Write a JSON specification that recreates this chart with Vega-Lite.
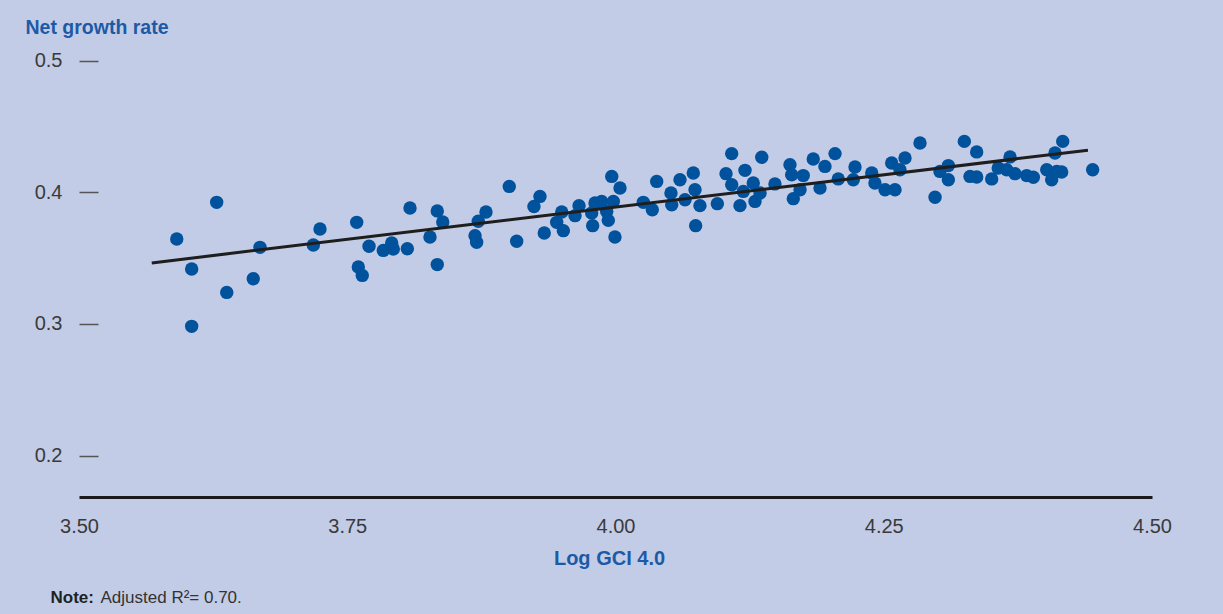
{
  "$schema": "https://vega.github.io/schema/vega-lite/v6.json",
  "width": 1073,
  "height": 489,
  "autosize": {"type": "none"},
  "padding": {"left": 79, "top": 8, "right": 71, "bottom": 117},
  "background": "#c3cce6",
  "config": {
    "view": {"stroke": null},
    "font": "Liberation Sans"
  },
  "resolve": {"axis": {"x": "independent", "y": "independent"}},
  "datasets": {
    "pts": [
      {"gci": 3.5911, "growth": 0.3646},
      {"gci": 3.6283, "growth": 0.3924},
      {"gci": 3.6050, "growth": 0.3418},
      {"gci": 3.6050, "growth": 0.2982},
      {"gci": 3.6377, "growth": 0.3240},
      {"gci": 3.6624, "growth": 0.3344},
      {"gci": 3.6687, "growth": 0.3582},
      {"gci": 3.7184, "growth": 0.3600},
      {"gci": 3.7246, "growth": 0.3722},
      {"gci": 3.7588, "growth": 0.3772},
      {"gci": 3.7603, "growth": 0.3433},
      {"gci": 3.7640, "growth": 0.3369},
      {"gci": 3.7703, "growth": 0.3590},
      {"gci": 3.7836, "growth": 0.3559},
      {"gci": 3.7914, "growth": 0.3615},
      {"gci": 3.7929, "growth": 0.3570},
      {"gci": 3.8060, "growth": 0.3572},
      {"gci": 3.8085, "growth": 0.3881},
      {"gci": 3.8271, "growth": 0.3661},
      {"gci": 3.8339, "growth": 0.3859},
      {"gci": 3.8390, "growth": 0.3775},
      {"gci": 3.8339, "growth": 0.3451},
      {"gci": 3.8691, "growth": 0.3671},
      {"gci": 3.8706, "growth": 0.3620},
      {"gci": 3.8721, "growth": 0.3780},
      {"gci": 3.8793, "growth": 0.3851},
      {"gci": 3.9010, "growth": 0.4045},
      {"gci": 3.9079, "growth": 0.3628},
      {"gci": 3.9240, "growth": 0.3893},
      {"gci": 3.9296, "growth": 0.3969},
      {"gci": 3.9336, "growth": 0.3691},
      {"gci": 3.9452, "growth": 0.3772},
      {"gci": 3.9499, "growth": 0.3851},
      {"gci": 3.9514, "growth": 0.3709},
      {"gci": 3.9623, "growth": 0.3823},
      {"gci": 3.9660, "growth": 0.3899},
      {"gci": 3.9778, "growth": 0.3843},
      {"gci": 3.9787, "growth": 0.3747},
      {"gci": 3.9809, "growth": 0.3919},
      {"gci": 3.9871, "growth": 0.3931},
      {"gci": 3.9918, "growth": 0.3855},
      {"gci": 3.9933, "growth": 0.3787},
      {"gci": 3.9965, "growth": 0.4121},
      {"gci": 3.9980, "growth": 0.3931},
      {"gci": 4.0042, "growth": 0.4033},
      {"gci": 3.9995, "growth": 0.3661},
      {"gci": 4.0259, "growth": 0.3924},
      {"gci": 4.0343, "growth": 0.3868},
      {"gci": 4.0384, "growth": 0.4083},
      {"gci": 4.0517, "growth": 0.3995},
      {"gci": 4.0524, "growth": 0.3906},
      {"gci": 4.0601, "growth": 0.4096},
      {"gci": 4.0648, "growth": 0.3944},
      {"gci": 4.0725, "growth": 0.4147},
      {"gci": 4.0741, "growth": 0.4020},
      {"gci": 4.0787, "growth": 0.3899},
      {"gci": 4.0747, "growth": 0.3747},
      {"gci": 4.0949, "growth": 0.3914},
      {"gci": 4.1083, "growth": 0.4294},
      {"gci": 4.1030, "growth": 0.4142},
      {"gci": 4.1083, "growth": 0.4058},
      {"gci": 4.1160, "growth": 0.3899},
      {"gci": 4.1191, "growth": 0.4007},
      {"gci": 4.1207, "growth": 0.4167},
      {"gci": 4.1284, "growth": 0.4071},
      {"gci": 4.1300, "growth": 0.3931},
      {"gci": 4.1363, "growth": 0.4266},
      {"gci": 4.1347, "growth": 0.3995},
      {"gci": 4.1486, "growth": 0.4064},
      {"gci": 4.1626, "growth": 0.4210},
      {"gci": 4.1642, "growth": 0.4134},
      {"gci": 4.1657, "growth": 0.3952},
      {"gci": 4.1750, "growth": 0.4127},
      {"gci": 4.1720, "growth": 0.4020},
      {"gci": 4.1843, "growth": 0.4253},
      {"gci": 4.1906, "growth": 0.4033},
      {"gci": 4.1952, "growth": 0.4197},
      {"gci": 4.2046, "growth": 0.4294},
      {"gci": 4.2076, "growth": 0.4102},
      {"gci": 4.2216, "growth": 0.4096},
      {"gci": 4.2232, "growth": 0.4193},
      {"gci": 4.2388, "growth": 0.4147},
      {"gci": 4.2418, "growth": 0.4071},
      {"gci": 4.2512, "growth": 0.4020},
      {"gci": 4.2605, "growth": 0.4020},
      {"gci": 4.2574, "growth": 0.4223},
      {"gci": 4.2698, "growth": 0.4261},
      {"gci": 4.2651, "growth": 0.4172},
      {"gci": 4.2838, "growth": 0.4375},
      {"gci": 4.2978, "growth": 0.3962},
      {"gci": 4.3024, "growth": 0.4159},
      {"gci": 4.3102, "growth": 0.4203},
      {"gci": 4.3102, "growth": 0.4096},
      {"gci": 4.3251, "growth": 0.4387},
      {"gci": 4.3366, "growth": 0.4307},
      {"gci": 4.3304, "growth": 0.4121},
      {"gci": 4.3366, "growth": 0.4117},
      {"gci": 4.3506, "growth": 0.4102},
      {"gci": 4.3567, "growth": 0.4185},
      {"gci": 4.3677, "growth": 0.4269},
      {"gci": 4.3646, "growth": 0.4172},
      {"gci": 4.3723, "growth": 0.4142},
      {"gci": 4.3832, "growth": 0.4127},
      {"gci": 4.3894, "growth": 0.4114},
      {"gci": 4.4019, "growth": 0.4172},
      {"gci": 4.4065, "growth": 0.4096},
      {"gci": 4.4112, "growth": 0.4159},
      {"gci": 4.4158, "growth": 0.4155},
      {"gci": 4.4096, "growth": 0.4299},
      {"gci": 4.4168, "growth": 0.4387},
      {"gci": 4.4447, "growth": 0.4172}
    ],
    "fit": [
      {"gci": 3.5678, "growth": 0.3464},
      {"gci": 4.4403, "growth": 0.4320}
    ]
  },
  "layer": [
    {
      "data": {"name": "pts"},
      "mark": {"type": "circle", "size": 180, "color": "#00529c", "opacity": 1},
      "encoding": {
        "x": {
          "field": "gci",
          "type": "quantitative",
          "scale": {"domain": [3.5, 4.5], "nice": false, "zero": false},
          "axis": {
            "title": "Log GCI 4.0",
            "values": [3.5, 3.75, 4.0, 4.25, 4.5],
            "format": ".2f",
            "grid": false,
            "ticks": false,
            "tickSize": 0,
            "domainColor": "#1a1a1a",
            "domainWidth": 3,
            "labelFont": "Liberation Sans",
            "labelFontSize": 20,
            "labelColor": "#3a3a3a",
            "labelPadding": 19,
            "labelFlush": false,
            "titleFont": "Liberation Sans",
            "titleFontSize": 20,
            "titleFontWeight": "bold",
            "titleColor": "#1d5aa6",
            "titlePadding": 12,
            "titleX": 530
          }
        },
        "y": {
          "field": "growth",
          "type": "quantitative",
          "scale": {"domain": [0.1686, 0.54], "nice": false, "zero": false},
          "axis": {
            "title": "Net growth rate",
            "values": [0.2, 0.3, 0.4, 0.5],
            "format": ".1f",
            "grid": false,
            "domain": false,
            "offset": -19,
            "tickSize": 19,
            "tickColor": "#555555",
            "tickWidth": 1.5,
            "labelFont": "Liberation Sans",
            "labelFontSize": 20,
            "labelColor": "#3a3a3a",
            "labelPadding": 17,
            "titleFont": "Liberation Sans",
            "titleFontSize": 19.5,
            "titleFontWeight": "bold",
            "titleColor": "#1d5aa6",
            "titleAngle": 0,
            "titleAlign": "left",
            "titleBaseline": "alphabetic",
            "titleX": -73,
            "titleY": 25
          }
        }
      }
    },
    {
      "data": {"name": "fit"},
      "mark": {"type": "line", "color": "#1e1e1e", "strokeWidth": 3},
      "encoding": {
        "x": {
          "field": "gci",
          "type": "quantitative",
          "axis": {
            "orient": "bottom",
            "labels": false,
            "ticks": false,
            "domain": false,
            "grid": false,
            "title": "Adjusted R²= 0.70.",
            "titleFont": "Liberation Sans",
            "titleFontSize": 17,
            "titleFontWeight": "normal",
            "titleColor": "#333333",
            "titleAlign": "left",
            "titleBaseline": "alphabetic",
            "titleAnchor": null,
            "titleX": 21,
            "titleY": 105
          }
        },
        "y": {
          "field": "growth",
          "type": "quantitative",
          "axis": {
            "orient": "left",
            "labels": false,
            "ticks": false,
            "domain": false,
            "grid": false,
            "title": "Note:",
            "titleFont": "Liberation Sans",
            "titleFontSize": 17,
            "titleFontWeight": "bold",
            "titleColor": "#222222",
            "titleAngle": 0,
            "titleAlign": "left",
            "titleBaseline": "alphabetic",
            "titleAnchor": null,
            "titleX": -29,
            "titleY": 594
          }
        }
      }
    }
  ]
}
